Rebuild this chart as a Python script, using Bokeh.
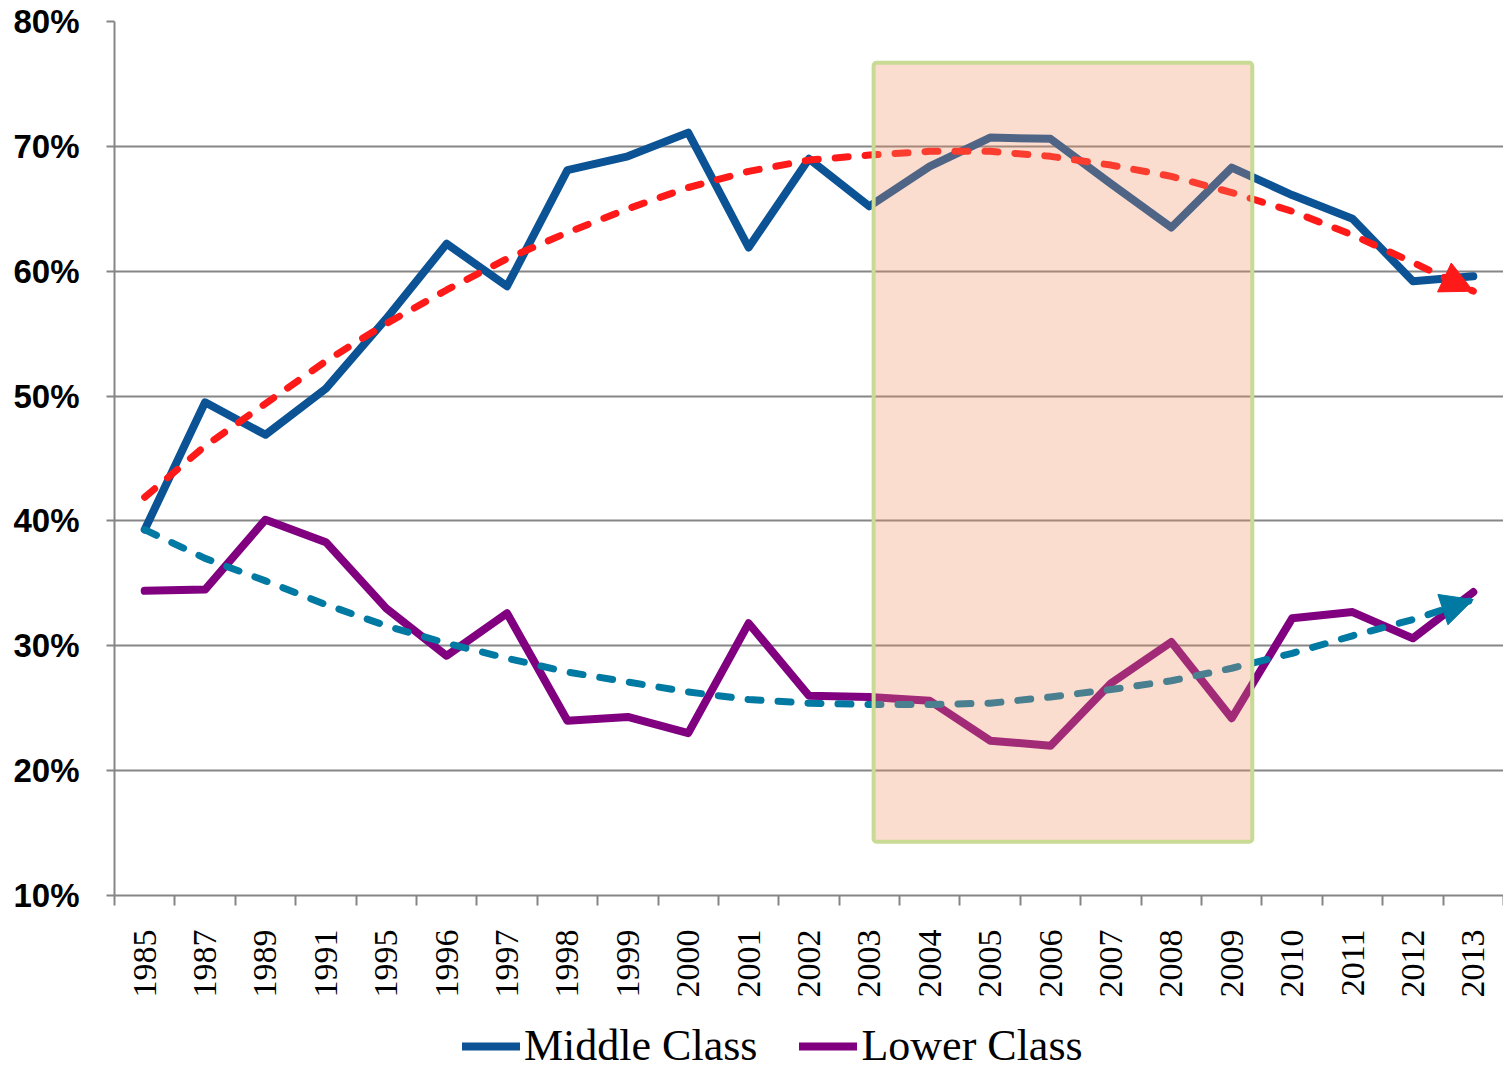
import math
from bokeh.plotting import figure
from bokeh.layouts import column
from bokeh.models import (Range1d, FixedTicker, Legend, LegendItem, BoxAnnotation,
                          Arrow, NormalHead, ColumnDataSource)
from bokeh.embed import file_html
from bokeh.resources import INLINE

# ---------------- data ----------------
years = ["1985", "1987", "1989", "1991", "1995", "1996", "1997", "1998", "1999", "2000",
         "2001", "2002", "2003", "2004", "2005", "2006", "2007", "2008", "2009", "2010",
         "2011", "2012", "2013"]
middle_class = [39.3, 49.5, 46.9, 50.6, 56.2, 62.2, 58.8, 68.1, 69.2, 71.1, 61.9, 69.0,
                65.2, 68.4, 70.7, 70.6, 67.0, 63.5, 68.3, 66.1, 64.2, 59.2, 59.6]
lower_class = [34.4, 34.5, 40.1, 38.3, 33.0, 29.2, 32.6, 24.0, 24.3, 23.0, 31.8, 26.0,
               25.9, 25.6, 22.4, 22.0, 27.0, 30.3, 24.2, 32.2, 32.7, 30.6, 34.3]
middle_trend = [41.9, 46.0, 49.4, 52.8, 55.8, 58.5, 61.0, 63.1, 65.0, 66.7, 68.0, 68.9,
                69.3, 69.6, 69.6, 69.2, 68.5, 67.6, 66.3, 64.8, 62.9, 60.7, 58.4]
lower_trend = [39.3, 37.0, 35.2, 33.3, 31.6, 30.2, 29.0, 27.9, 27.1, 26.3, 25.7, 25.4,
               25.3, 25.3, 25.4, 25.9, 26.5, 27.2, 28.2, 29.4, 30.8, 32.1, 33.7]
y_ticks = [10, 20, 30, 40, 50, 60, 70, 80]
series_names = ["Middle Class", "Lower Class"]
highlight_start, highlight_end = "2003", "2009"
highlight_low, highlight_high = 14.3, 76.7

# ---------------- styles ----------------
C_MID = "#0b5394"
C_LOW = "#800080"
C_MID_TR = "#ff1a1a"
C_LOW_TR = "#0079a3"
GRID = "#868686"
W = 1503

idx = list(range(len(years)))
src = ColumnDataSource(dict(x=idx, mid=middle_class, low=lower_class,
                            mtr=middle_trend, ltr=lower_trend))

p = figure(width=W, height=1000, x_range=Range1d(-0.5, len(years) - 0.5),
           y_range=Range1d(y_ticks[0], y_ticks[-1]),
           output_backend="svg", toolbar_location=None,
           min_border_left=114, min_border_top=21, min_border_right=0,
           min_border_bottom=98)
p.outline_line_color = None
p.background_fill_color = "white"

# axes
p.xaxis.ticker = FixedTicker(ticks=idx, minor_ticks=[i - 0.5 for i in range(len(years) + 1)])
p.xaxis.major_label_overrides = {i: y for i, y in zip(idx, years)}
p.xaxis.major_label_orientation = math.pi / 2
p.xaxis.major_tick_line_color = None
p.xaxis.major_tick_out = 0
p.xaxis.major_tick_in = 0
p.xaxis.minor_tick_line_color = GRID
p.xaxis.minor_tick_line_width = 2
p.xaxis.minor_tick_out = 10
p.xaxis.minor_tick_in = 0
p.xaxis.axis_line_color = GRID
p.xaxis.axis_line_width = 2
p.xaxis.major_label_standoff = 24
p.xaxis.major_label_text_font = "Liberation Serif"
p.xaxis.major_label_text_font_size = "34px"
p.xaxis.major_label_text_color = "black"

p.yaxis.ticker = FixedTicker(ticks=y_ticks)
p.yaxis.major_label_overrides = {t: f"{t}%" for t in y_ticks}
p.yaxis.minor_tick_line_color = None
p.yaxis.major_tick_line_color = GRID
p.yaxis.major_tick_line_width = 2
p.yaxis.major_tick_out = 8
p.yaxis.major_tick_in = 0
p.yaxis.axis_line_color = GRID
p.yaxis.axis_line_width = 2
p.yaxis.major_label_standoff = 27
p.yaxis.major_label_text_font = "Liberation Sans"
p.yaxis.major_label_text_font_style = "bold"
p.yaxis.major_label_text_font_size = "33px"
p.yaxis.major_label_text_color = "black"

p.xgrid.visible = False
p.ygrid.grid_line_color = GRID
p.ygrid.grid_line_width = 2

# series
p.line("x", "mid", source=src, line_color=C_MID, line_width=8,
       line_join="round", line_cap="round")
p.line("x", "low", source=src, line_color=C_LOW, line_width=8,
       line_join="round", line_cap="round")
p.line("x", "mtr", source=src, line_color=C_MID_TR, line_width=7,
       line_dash="13 17", line_cap="round", line_join="round")
p.line("x", "ltr", source=src, line_color=C_LOW_TR, line_width=7,
       line_dash="13 17", line_cap="round", line_join="round")

# arrow heads at the end of trend lines
n = len(years)
for tr, col in ((middle_trend, C_MID_TR), (lower_trend, C_LOW_TR)):
    p.add_layout(Arrow(x_start=idx[n - 2], y_start=tr[n - 2], x_end=idx[n - 1], y_end=tr[n - 1],
                       line_alpha=0, line_width=1,
                       end=NormalHead(size=32, fill_color=col, line_color=col, line_width=1)))

# highlight box
i0 = years.index(highlight_start)
i1 = years.index(highlight_end)
p.add_layout(BoxAnnotation(left=i0 + 0.07, right=i1 + 0.34, bottom=highlight_low, top=highlight_high,
                           fill_color="#f28e62", fill_alpha=0.3,
                           line_color="#c8da94", line_width=4, line_alpha=1.0,
                           border_radius=3))

# legend strip below the chart (series drawn out of view; only their legend glyphs show)
p2 = figure(width=W, height=71, x_range=Range1d(-0.5, len(years) - 0.5), y_range=Range1d(0, 1),
            x_axis_type=None, y_axis_type=None, output_backend="svg",
            toolbar_location=None, min_border=0)
p2.outline_line_color = None
p2.grid.visible = False
g_mid = p2.line("x", "mid", source=src, line_color=C_MID, line_width=8, line_cap="round")
g_low = p2.line("x", "low", source=src, line_color=C_LOW, line_width=8, line_cap="round")
legend = Legend(items=[LegendItem(label=series_names[0], renderers=[g_mid]),
                       LegendItem(label=series_names[1], renderers=[g_low])],
                orientation="horizontal", location=(348, 0),
                label_text_font="Liberation Serif", label_text_font_size="44px",
                label_text_color="black",
                glyph_width=58, glyph_height=36, label_height=36, label_standoff=4,
                spacing=42, padding=0, margin=0,
                border_line_color=None, background_fill_alpha=0)
p2.add_layout(legend, "center")

open("out.html", "w").write(file_html(column(p, p2, spacing=0), INLINE))
